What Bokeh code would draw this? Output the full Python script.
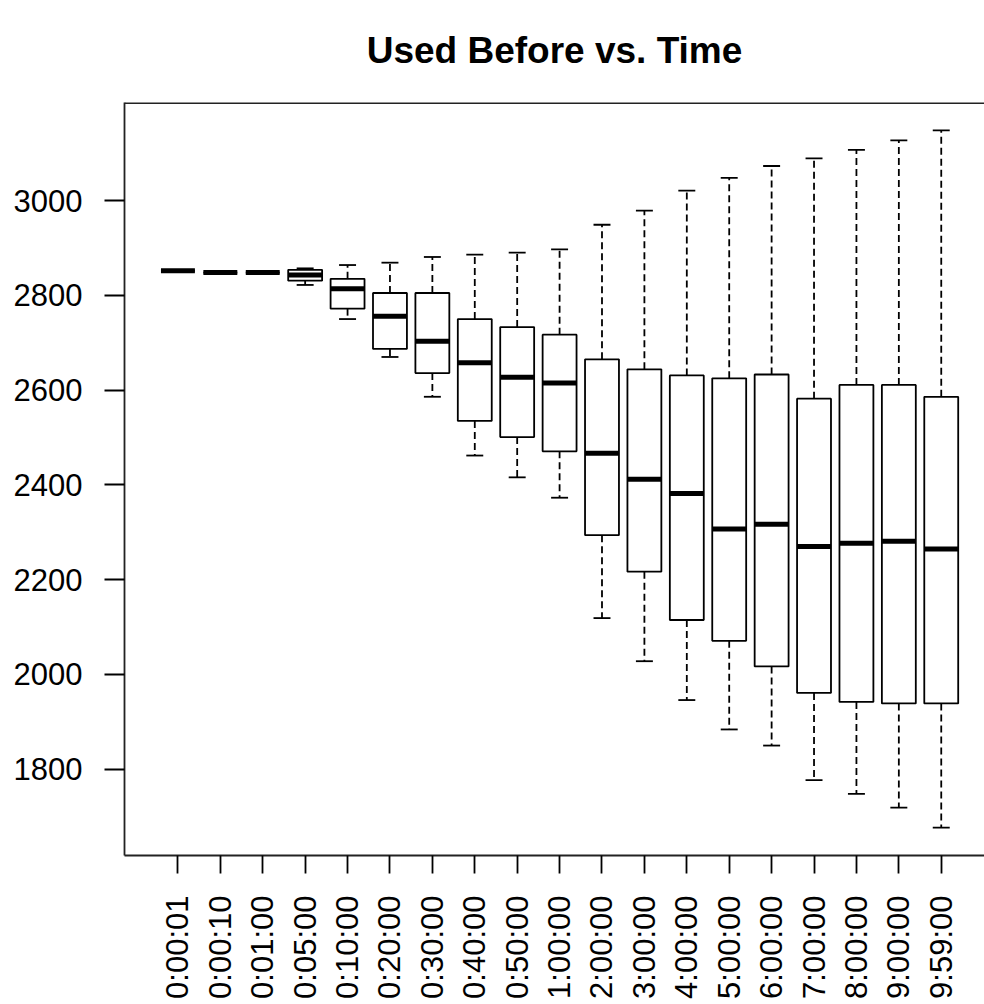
import math
from bokeh.plotting import figure
from bokeh.models import Range1d, FixedTicker, Span
from bokeh.embed import file_html
from bokeh.resources import INLINE

times = ["0:00:01", "0:00:10", "0:01:00", "0:05:00", "0:10:00", "0:20:00", "0:30:00",
         "0:40:00", "0:50:00", "1:00:00", "2:00:00", "3:00:00", "4:00:00", "5:00:00",
         "6:00:00", "7:00:00", "8:00:00", "9:00:00", "9:59:00"]
lower_whisker = [2852, 2848, 2848, 2822, 2750, 2670, 2586, 2462, 2416, 2373, 2119, 2028,
                 1946, 1884, 1850, 1777, 1748, 1719, 1677]
q1 = [2852, 2848, 2848, 2831, 2772, 2687, 2636, 2535, 2501, 2471, 2294, 2217,
      2115, 2071, 2017, 1961, 1942, 1939, 1939]
median = [2852, 2848, 2848, 2843, 2814, 2756, 2703, 2658, 2627, 2615, 2467, 2412,
          2382, 2307, 2317, 2270, 2277, 2281, 2265]
q3 = [2852, 2848, 2848, 2854, 2835, 2805, 2805, 2750, 2733, 2717, 2665, 2644,
      2631, 2625, 2633, 2582, 2611, 2611, 2586]
upper_whisker = [2852, 2848, 2848, 2857, 2864, 2869, 2881, 2886, 2890, 2897, 2949, 2979,
                 3021, 3048, 3073, 3089, 3107, 3127, 3148]
y_ticks = [1800, 2000, 2200, 2400, 2600, 2800, 3000]
title_text = "Used Before vs. Time"

pos = list(range(1, len(times) + 1))
box_w = 0.8
staple_half = 0.2

FONT = "Liberation Sans"
LW = 1.8

p = figure(width=984, height=1004, output_backend="svg", toolbar_location=None,
           x_range=Range1d(-0.26, 20.02), y_range=Range1d(1618, 3207),
           min_border_left=124, min_border_right=0, min_border_top=0, min_border_bottom=149)
p.background_fill_color = "white"
p.border_fill_color = "white"
p.outline_line_color = None
p.grid.visible = False

xa = p.below[0]
ya = p.left[0]

p.title.text = title_text
p.title.align = "center"
p.title.vertical_align = "top"
p.title.text_font = FONT
p.title.text_font_size = "37px"
p.title.text_font_style = "bold"
p.title.text_color = "black"
p.title.standoff = 59

# top border of the plot box
p.add_layout(Span(location=p.y_range.end, dimension="width", line_color="#222222", line_width=3))

# whiskers (dashed)
p.segment(x0=pos, x1=pos, y0=q3, y1=upper_whisker, line_color="black", line_width=LW, line_dash="7 4")
p.segment(x0=pos, x1=pos, y0=q1, y1=lower_whisker, line_color="black", line_width=LW, line_dash="7 4")
# staples
p.segment(x0=[x - staple_half for x in pos], x1=[x + staple_half for x in pos],
          y0=upper_whisker, y1=upper_whisker, line_color="black", line_width=LW)
p.segment(x0=[x - staple_half for x in pos], x1=[x + staple_half for x in pos],
          y0=lower_whisker, y1=lower_whisker, line_color="black", line_width=LW)
# boxes
p.quad(left=[x - box_w / 2 for x in pos], right=[x + box_w / 2 for x in pos],
       bottom=q1, top=q3, fill_color="white", line_color="black", line_width=LW)
# medians
p.segment(x0=[x - box_w / 2 for x in pos], x1=[x + box_w / 2 for x in pos],
          y0=median, y1=median, line_color="black", line_width=5)

# x axis
xa.ticker = FixedTicker(ticks=pos)
xa.major_label_overrides = {i: t for i, t in zip(pos, times)}
xa.major_label_orientation = math.pi / 2
xa.major_label_text_font = FONT
xa.major_label_text_font_size = "31px"
xa.major_label_text_color = "black"
xa.major_tick_out = 18
xa.major_tick_in = 0
xa.minor_tick_out = 0
xa.minor_tick_in = 0
xa.major_tick_line_width = LW
xa.major_tick_line_color = "black"
xa.axis_line_width = LW
xa.axis_line_color = "#222222"
xa.major_label_standoff = 22

ya.ticker = FixedTicker(ticks=y_ticks)
ya.major_label_text_font = FONT
ya.major_label_text_font_size = "31px"
ya.major_label_text_color = "black"
ya.major_tick_out = 20
ya.major_tick_in = 0
ya.minor_tick_out = 0
ya.minor_tick_in = 0
ya.major_tick_line_width = LW
ya.major_tick_line_color = "black"
ya.axis_line_width = LW
ya.axis_line_color = "#222222"
ya.major_label_standoff = 22

open("out.html", "w").write(file_html(p, INLINE))
